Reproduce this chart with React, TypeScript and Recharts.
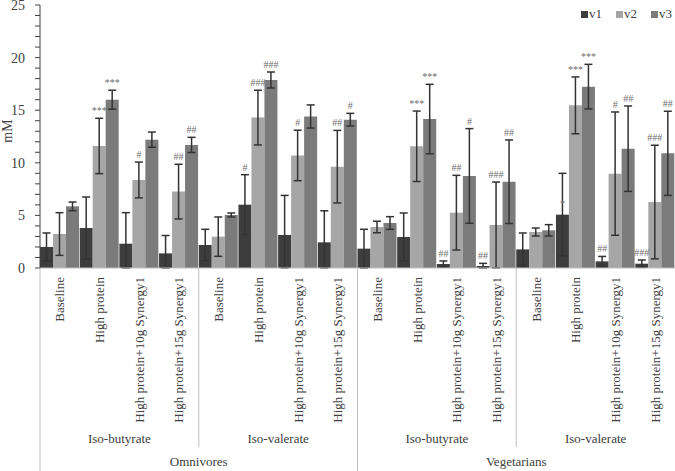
// Iso-butyrate / iso-valerate (mM) per diet phase, three visits, with SD
// whiskers and significance marks. Multi-level category axis drawn in the tick.

import { Bar, BarChart, ErrorBar, LabelList, Legend, XAxis, YAxis } from "recharts";

const W = 675;
const H = 471;
const Y_AXIS_W = 40;
const CAT_W = (W - Y_AXIS_W) / 16;
const FONT = "Liberation Serif, Times New Roman, serif";
const TEXT = "#404040";
const SIG = "#6e6e6e";
const SEP = "#bfbfbf";

const COLORS = { v1: "#3d3d3d", v2: "#a6a6a6", v3: "#7b7b7b" };

const phases = ["Baseline", "High protein", "High protein+10g Synergy1", "High protein+15g Synergy1"];
const substances = ["Iso-butyrate", "Iso-valerate", "Iso-butyrate", "Iso-valerate"];
const diets = ["Omnivores", "Vegetarians"];

const v1 = [2.0, 3.8, 2.31, 1.39, 2.19, 6.02, 3.14, 2.44, 1.84, 2.95, 0.38, 0.19, 1.77, 5.07, 0.63, 0.41];
const v2 = [3.23, 11.6, 8.37, 7.26, 2.98, 14.3, 10.7, 9.63, 3.9, 11.57, 5.26, 4.09, 3.42, 15.46, 8.97, 6.27];
const v3 = [5.86, 16.0, 12.2, 11.7, 5.04, 17.87, 14.4, 14.1, 4.28, 14.16, 8.75, 8.2, 3.58, 17.24, 11.34, 10.9];

const v1Err = [1.33, 2.95, 2.95, 1.7, 1.49, 2.85, 3.76, 3.0, 1.84, 2.28, 0.29, 0.25, 1.56, 3.93, 0.47, 0.35];
const v2Err = [2.03, 2.63, 1.7, 2.6, 1.87, 2.6, 2.4, 3.45, 0.55, 3.35, 3.55, 4.08, 0.38, 2.7, 5.86, 5.4];
const v3Err = [0.41, 0.9, 0.72, 0.72, 0.19, 0.76, 1.1, 0.6, 0.6, 3.3, 4.5, 3.97, 0.54, 2.12, 4.06, 4.0];

const v1Sig = ["", "", "", "", "", "#", "", "", "", "", "##", "##", "", "*", "##", "###"];
const v2Sig = ["", "***", "#", "##", "", "###", "#", "##", "", "***", "##", "###", "", "***", "#", "###"];
const v3Sig = ["", "***", "", "##", "", "###", "", "#", "", "***", "#", "##", "", "***", "##", "##"];

// whiskers stop at the axis floor, as in the source chart
const clipErr = (v: number, e: number) => [Math.min(e, v), e];

const data = v1.map((_, i) => ({
  cat: phases[i % 4],
  v1: v1[i],
  v2: v2[i],
  v3: v3[i],
  v1Err: clipErr(v1[i], v1Err[i]),
  v2Err: clipErr(v2[i], v2Err[i]),
  v3Err: clipErr(v3[i], v3Err[i]),
}));

const yTicks = Array.from({ length: 26 }, (_, i) => i);

function sigLabel(values: number[], errs: number[], sigs: string[]) {
  return (props: any) => {
    const { x, y, width, height, index } = props;
    const text = sigs[index];
    if (!text) return null;
    const val = values[index];
    const unit = val > 0 ? height / val : 0;
    const errTop = y - errs[index] * unit;
    // the lone "*" sits on the whisker just above the bar in the source
    const ty = text === "*" ? y - 8 : errTop - 4;
    return (
      <text
        x={x + width / 2}
        y={ty}
        textAnchor="middle"
        fontSize={10}
        fontFamily={FONT}
        fill={SIG}
      >
        {text}
      </text>
    );
  };
}

function CategoryTick(props: any) {
  const { x, y, payload, index } = props;
  const left = x - CAT_W / 2;
  return (
    <g>
      <text
        transform={`translate(${x},${y + 9}) rotate(-90)`}
        textAnchor="end"
        dy="0.35em"
        fontSize={13}
        fontFamily={FONT}
        fill={TEXT}
      >
        {payload.value}
      </text>
      {index % 4 === 0 && (
        <>
          <line x1={left} x2={left} y1={y} y2={index % 8 === 0 ? H : y + 179} stroke={SEP} />
          <text
            x={left + 2 * CAT_W}
            y={y + 175}
            textAnchor="middle"
            fontSize={13}
            fontFamily={FONT}
            fill={TEXT}
          >
            {substances[index / 4]}
          </text>
        </>
      )}
      {index % 8 === 0 && (
        <text
          x={left + 4 * CAT_W}
          y={y + 198}
          textAnchor="middle"
          fontSize={13}
          fontFamily={FONT}
          fill={TEXT}
        >
          {diets[index / 8]}
        </text>
      )}
    </g>
  );
}

function LegendBox() {
  const items = ["v1", "v2", "v3"] as const;
  return (
    <div style={{ display: "flex", gap: 14, fontFamily: FONT, fontSize: 13, color: TEXT, lineHeight: "16px" }}>
      {items.map((k) => (
        <span key={k} style={{ display: "flex", alignItems: "center" }}>
          <span style={{ width: 7, height: 7, background: COLORS[k], marginRight: 1, display: "inline-block" }} />
          {k}
        </span>
      ))}
    </div>
  );
}

function YTitle() {
  return (
    <text
      transform="translate(7,131) rotate(-90)"
      textAnchor="middle"
      dy="0.35em"
      fontSize={14}
      fontFamily={FONT}
      fill={TEXT}
    >
      mM
    </text>
  );
}

export default function App() {
  return (
    <div style={{ position: "absolute", left: 0, top: 0, width: W, height: H, background: "#fff" }}>
      <BarChart
        width={W}
        height={H}
        data={data}
        margin={{ top: 5, right: 0, bottom: 0, left: 0 }}
        barCategoryGap={0}
        barGap={0}
      >
        <XAxis
          dataKey="cat"
          interval={0}
          height={203}
          tickSize={0}
          tickMargin={0}
          tickLine={false}
          axisLine={{ stroke: SEP }}
          tick={<CategoryTick />}
        />
        <YAxis
          width={Y_AXIS_W}
          domain={[0, 25]}
          allowDataOverflow
          ticks={yTicks}
          interval={0}
          tickSize={5}
          tickMargin={10}
          tickFormatter={(v: number) => (v % 5 === 0 ? String(v) : "")}
          tick={{ fill: TEXT, fontSize: 14, fontFamily: FONT }}
          tickLine={{ stroke: TEXT }}
          axisLine={{ stroke: TEXT }}
          label={<YTitle />}
        />
        <Legend
          layout="vertical"
          align="center"
          verticalAlign="middle"
          wrapperStyle={{ top: 6, left: 581, width: 94 }}
          content={() => <LegendBox />}
        />
        <Bar dataKey="v1" fill={COLORS.v1} isAnimationActive={false}>
          <ErrorBar dataKey="v1Err" width={4} stroke="#333" strokeWidth={1.5} direction="y" />
          <LabelList dataKey="v1" content={sigLabel(v1, v1Err, v1Sig)} />
        </Bar>
        <Bar dataKey="v2" fill={COLORS.v2} isAnimationActive={false}>
          <ErrorBar dataKey="v2Err" width={4} stroke="#333" strokeWidth={1.5} direction="y" />
          <LabelList dataKey="v2" content={sigLabel(v2, v2Err, v2Sig)} />
        </Bar>
        <Bar dataKey="v3" fill={COLORS.v3} isAnimationActive={false}>
          <ErrorBar dataKey="v3Err" width={4} stroke="#333" strokeWidth={1.5} direction="y" />
          <LabelList dataKey="v3" content={sigLabel(v3, v3Err, v3Sig)} />
        </Bar>
      </BarChart>
    </div>
  );
}
